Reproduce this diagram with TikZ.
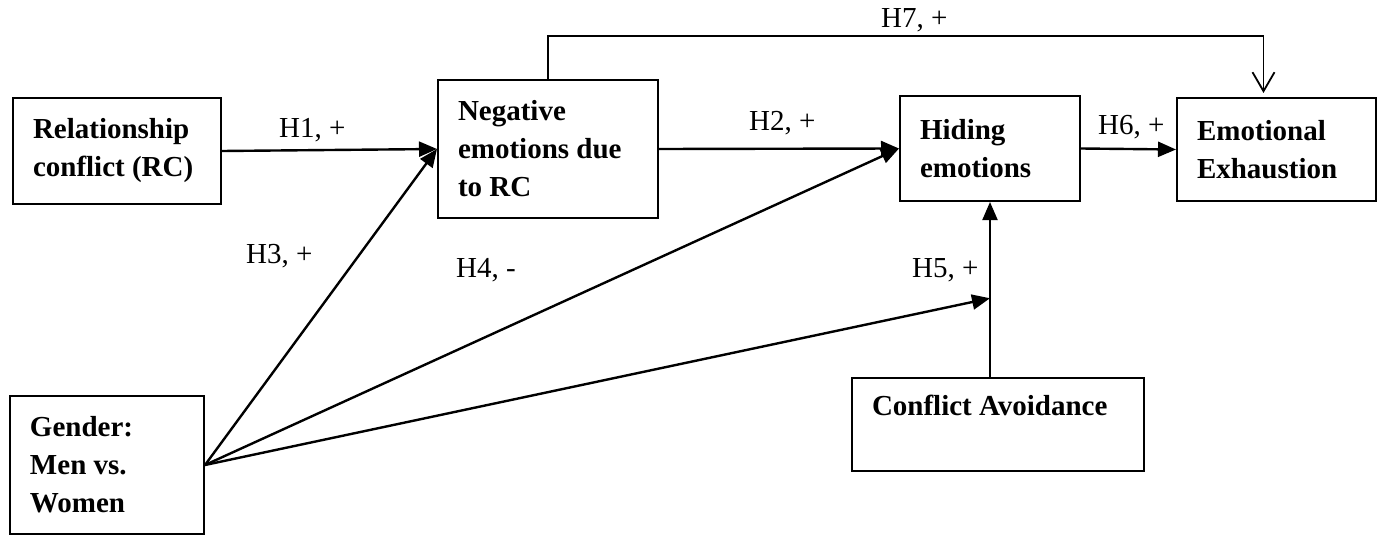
\documentclass[tikz,border=0pt]{standalone}
\usepackage{fontspec}
\setmainfont{Liberation Serif}
\usetikzlibrary{%
  arrows.meta,%
  calc%
}

\begin{document}
\begin{tikzpicture}[
  x=1pt, y=-1pt,
  font=\fontsize{29}{38}\selectfont,
  >={Triangle[length=18pt,width=15pt]},
  line width=2.4pt,
  box/.style={draw, rectangle, line width=2pt, anchor=north west, align=flush left,
    font=\fontsize{29}{38}\selectfont\bfseries, inner xsep=20pt, inner ysep=0pt},
  hyp/.style={inner sep=0pt, anchor=base west},
]

\useasboundingbox (0,0) rectangle (1385,535);

% constructs
\node[box, minimum width=208, minimum height=106, text width=168] (rc) at (12,97) {Relationship\\conflict (RC)};
\node[box, minimum width=220, minimum height=138, text width=180] (neg) at (437,79) {Negative\\emotions due\\to RC};
\node[box, minimum width=180, minimum height=105, text width=140] (hide) at (899,95) {Hiding\\emotions};
\node[box, minimum width=199, minimum height=103, text width=159] (ee) at (1176,97) {Emotional\\Exhaustion};
\node[box, minimum width=194, minimum height=138, text width=154, inner xsep=18pt] (gender) at (9,395) {Gender:\\Men vs.\\Women};
\node[box, minimum width=292, text width=252, text height=37pt, text depth=56pt] (avoid) at (851,377) {Conflict Avoidance};

\coordinate (mod) at ($(hide.south)!0.55!(hide.south |- avoid.north)$);

% paths
\draw [->] (rc.east) -- (neg.west);
\draw [->] (neg.east) -- (hide.west);
\draw [->] (hide.east) -- (ee.west);
\draw [->] (gender.east) -- (neg.west);
\draw [->] (gender.east) -- (hide.west);
\draw [->] (gender.east) -- (mod);
\draw [->, line width=2pt] (hide.south |- avoid.north) -- (hide.south);
\draw [-{Straight Barb[length=19pt,width=22pt]}, line width=1.8pt, shorten >=4pt]
  (neg.north) |- ($(ee.north)+(-13,-61)$) -- ($(ee.north)+(-13,0)$);

% hypotheses
\node[hyp] (h1) at (278,137) {H1, +};
\node[hyp] (h2) at (748,130) {H2, +};
\node[hyp] (h3) at (245,263) {H3, +};
\node[hyp] (h4) at (455,277) {H4, -};
\node[hyp] (h5) at (911,277) {H5, +};
\node[hyp] (h6) at (1097,135) {H6, +};
\node[hyp] (h7) at (880,28) {H7, +};

\end{tikzpicture}
\end{document}
